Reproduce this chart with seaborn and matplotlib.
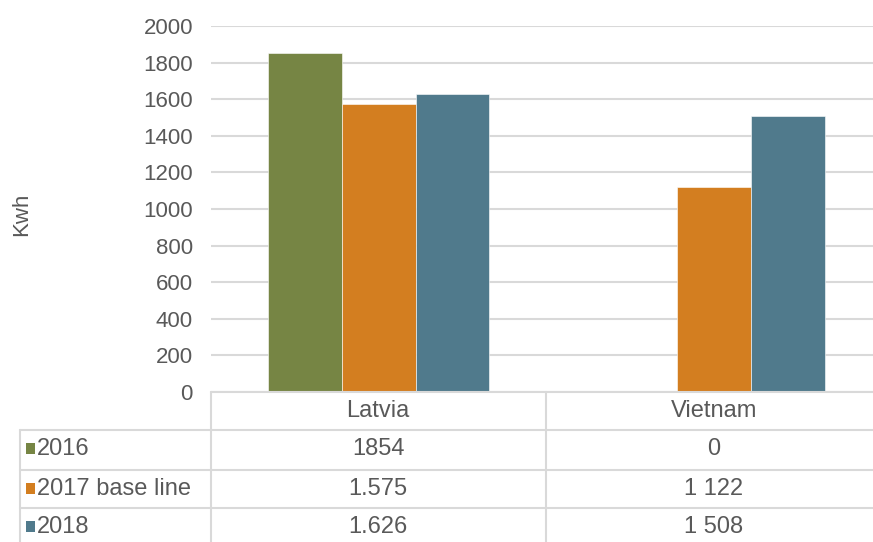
import pandas as pd
import seaborn as sns
import matplotlib.pyplot as plt
from matplotlib.lines import Line2D
from matplotlib.patches import Rectangle

# Data
countries = ["Latvia", "Vietnam"]
series = ["2016", "2017 base line", "2018"]
values = {
    "2016": [1854, 0],
    "2017 base line": [1575, 1122],
    "2018": [1626, 1508],
}
# labels as printed in the data table
tableLabels = {
    "2016": ["1854", "0"],
    "2017 base line": ["1.575", "1 122"],
    "2018": ["1.626", "1 508"],
}
yTicks = [0, 200, 400, 600, 800, 1000, 1200, 1400, 1600, 1800, 2000]

colors = ["#768544", "#D37E20", "#507A8C"]
gridCol = "#D9D9D9"
txtCol = "#595959"
fs = 16
tfs = 17

rows = []
for s in series:
    for c, v in zip(countries, values[s]):
        rows.append({"country": c, "series": s, "kwh": v})
df = pd.DataFrame(rows)

sns.set_style("white")
plt.rcParams["font.family"] = ["Liberation Sans", "DejaVu Sans"]

W, H = 873, 542
fig = plt.figure(figsize=(W / 100, H / 100), dpi=100)

def fx(px):
    return px / W

def fy(py):
    return 1 - py / H

axL, axR, axT, axB = 211, 882, 26, 392
ax = fig.add_axes([fx(axL), fy(axB), fx(axR - axL), (axB - axT) / H])

sns.barplot(data=df, x="country", y="kwh", hue="series", hue_order=series,
            palette=colors, saturation=1, width=0.66, gap=0, ax=ax,
            legend=False, edgecolor="white", linewidth=0.4, zorder=3)

ax.set_ylim(0, 2000)
ax.set_xlim(-0.5, 1.5)
ax.set_yticks(yTicks)
ax.set_yticklabels([str(t) for t in yTicks], fontsize=fs, color=txtCol)
ax.tick_params(axis="y", length=0, pad=13)
ax.set_xticks([])
ax.set_xlabel("")
ax.set_ylabel("")
ax.yaxis.grid(True, color=gridCol, linewidth=1.5, zorder=0)
ax.set_axisbelow(True)
for sp in ax.spines.values():
    sp.set_visible(False)

fig.text(fx(22), fy(214), "Kwh", rotation=90, fontsize=fs, color=txtCol,
         ha="center", va="center")

# data table below the plot
def hline(y, x0, x1):
    fig.add_artist(Line2D([fx(x0), fx(x1)], [fy(y), fy(y)], color=gridCol,
                          linewidth=1.5, transform=fig.transFigure))

def vline(x, y0, y1):
    fig.add_artist(Line2D([fx(x), fx(x)], [fy(y0), fy(y1)], color=gridCol,
                          linewidth=1.5, transform=fig.transFigure))

rowTop = [392, 430, 470, 508]
colEdges = [211, 546, 882]
colCentres = [378, 714]

hline(392, 211, 882)
for y in rowTop[1:]:
    hline(y, 20, 882)
vline(20, 430, 546)
for x in colEdges[:2]:
    vline(x, 392, 546)

for c, xc in zip(countries, colCentres):
    fig.text(fx(xc), fy(411), c, fontsize=tfs, color=txtCol,
             ha="center", va="center")

rowCentres = [449, 489, 527]
for i, s in enumerate(series):
    yc = rowCentres[i]
    fig.add_artist(Rectangle((fx(26), fy(yc + 5)), fx(9), 11 / H,
                             facecolor=colors[i], edgecolor="none",
                             transform=fig.transFigure))
    fig.text(fx(37), fy(yc), s, fontsize=tfs, color=txtCol,
             ha="left", va="center")
    for lab, xc in zip(tableLabels[s], colCentres):
        fig.text(fx(xc), fy(yc), lab, fontsize=tfs, color=txtCol,
                 ha="center", va="center")

fig.savefig("out.png", dpi=100)
